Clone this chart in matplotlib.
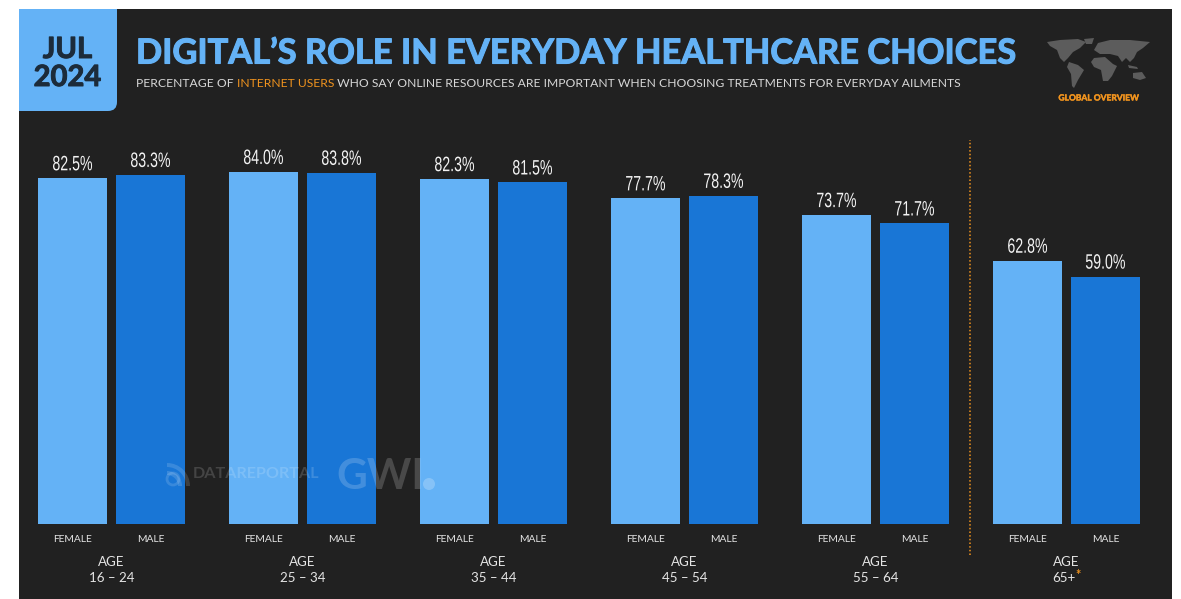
import matplotlib
matplotlib.use("Agg")
import matplotlib.pyplot as plt
import matplotlib.patheffects as pe
from matplotlib.patches import FancyBboxPatch, Polygon, Rectangle, Wedge, Circle
from matplotlib.transforms import Affine2D

# Survey values (percent of internet users)
age_groups = ["16 – 24", "25 – 34", "35 – 44", "45 – 54", "55 – 64", "65+"]
female = [82.5, 84.0, 82.3, 77.7, 73.7, 62.8]
male = [83.3, 83.8, 81.5, 78.3, 71.7, 59.0]
value_labels_female = ["82.5%", "84.0%", "82.3%", "77.7%", "73.7%", "62.8%"]
value_labels_male = ["83.3%", "83.8%", "81.5%", "78.3%", "71.7%", "59.0%"]

title = "DIGITAL’S ROLE IN EVERYDAY HEALTHCARE CHOICES"
subtitle_parts = [
    ("PERCENTAGE OF ", "#d8d8d8"),
    ("INTERNET USERS", "#f0931e"),
    (" WHO SAY ONLINE RESOURCES ARE IMPORTANT WHEN CHOOSING TREATMENTS FOR EVERYDAY AILMENTS", "#d8d8d8"),
]

PANEL = "#212121"
LIGHT = "#64B2F6"
DARK = "#1976D6"
ORANGE = "#F0931E"
TEXT = "#E4E4E4"
NAVY = "#1c2b3a"


class Squeeze(pe.AbstractPathEffect):
    """Narrows glyphs horizontally about a fixed display x position."""

    def __init__(self, centre, factor):
        super().__init__()
        self.centre = centre
        self.factor = factor

    def draw_path(self, renderer, gc, tpath, affine, rgbFace=None):
        squeezed = affine + Affine2D().translate(-self.centre, 0).scale(self.factor, 1).translate(self.centre, 0)
        renderer.draw_path(gc, tpath, squeezed, rgbFace)


def heavy(colour, width):
    return [pe.withStroke(linewidth=width, foreground=colour)]


W, H = 1181, 599
fig = plt.figure(figsize=(W / 100, H / 100), dpi=100, facecolor="white")

# Layout layer addressed in pixels, y pointing down
deco = fig.add_axes([0, 0, 1, 1], zorder=0)
deco.set_xlim(0, W)
deco.set_ylim(H, 0)
deco.axis("off")
deco.add_patch(Rectangle((19, 9), 1153, 590, fc=PANEL, ec="none"))

# Date badge: square on the top and left, rounded at the lower right
deco.add_patch(FancyBboxPatch((19, -20), 98, 131, boxstyle="round,pad=0,rounding_size=9",
                              fc=LIGHT, ec="none"))
deco.add_patch(Rectangle((19, 95), 20, 16, fc=LIGHT, ec="none"))
deco.add_patch(Rectangle((0, 0), W, 9, fc="white", ec="none"))
for label, y in (("JUL", 50), ("2024", 78)):
    deco.text(67.5, y, label, ha="center", va="center", color=NAVY, fontsize=21,
              family="Lato", weight="bold", path_effects=heavy(NAVY, 0.7))

deco.text(136, 53.5, title, ha="left", va="center", color=LIGHT, fontsize=24.8,
          family="Lato", weight="bold", path_effects=heavy(LIGHT, 0.8))

# Subtitle pieces are laid end to end on one baseline
renderer = fig.canvas.get_renderer()
cursor = 136
for text, colour in subtitle_parts:
    piece = deco.text(cursor, 87, text, color=colour, fontsize=8.72, family="Lato",
                      ha="left", va="baseline")
    cursor += piece.get_window_extent(renderer).width

# Simplified world map
land = [
    [(1047, 42), (1060, 40), (1078, 39), (1086, 42), (1080, 48), (1073, 52), (1068, 58),
     (1064, 62), (1060, 58), (1057, 50), (1050, 46)],
    [(1084, 39), (1094, 38), (1092, 44), (1086, 44)],
    [(1069, 62), (1078, 65), (1084, 70), (1078, 80), (1074, 88), (1072, 86), (1071, 74), (1067, 67)],
    [(1094, 58), (1105, 57), (1113, 64), (1117, 66), (1112, 76), (1108, 81), (1103, 81),
     (1101, 70), (1094, 67), (1091, 62)],
    [(1094, 50), (1098, 43), (1110, 40), (1130, 40), (1150, 42), (1143, 48), (1137, 52),
     (1134, 58), (1130, 62), (1126, 58), (1122, 62), (1118, 56), (1110, 54), (1100, 54)],
    [(1133, 73), (1142, 72), (1146, 78), (1140, 80), (1133, 78)],
    [(1128, 65), (1137, 67), (1138, 69), (1129, 68)],
]
for shape in land:
    deco.add_patch(Polygon(shape, closed=True, fc="#5c5c5c", ec="none"))
deco.text(1098.5, 98, "GLOBAL OVERVIEW", ha="center", va="center", color=ORANGE, fontsize=6.1,
          family="Lato", weight="bold", path_effects=heavy(ORANGE, 0.3))

# Bars on their own data scale: one x unit per age group, y in percent
PX_PER_UNIT = 191
PX_PER_PCT = 4.185
X0_PX = 111.5
BASE_PX = 523.5
ax = fig.add_axes([0, 0, 1, 1], zorder=1)
ax.patch.set_alpha(0)
ax.axis("off")
ax.set_xlim(-X0_PX / PX_PER_UNIT, (W - X0_PX) / PX_PER_UNIT)
ax.set_ylim(-(H - BASE_PX) / PX_PER_PCT, BASE_PX / PX_PER_PCT)

offset = 39 / PX_PER_UNIT
width = 69 / PX_PER_UNIT
label_gap = 1.9
small_font = dict(color=TEXT, fontsize=7.4, family="Lato", ha="center", va="center")
age_font = dict(color=TEXT, fontsize=9.6, family="Lato", ha="center", va="center")


def value_text(x, value, label):
    centre = ax.transData.transform((x, 0))[0]
    ax.text(x, value + label_gap, label, color="#f2f2f2", fontsize=15, family="Liberation Sans",
            ha="center", va="baseline", path_effects=[Squeeze(centre, 0.68)])


for i, group in enumerate(age_groups):
    ax.bar(i - offset, female[i], width, color=LIGHT)
    ax.bar(i + offset, male[i], width, color=DARK)
    value_text(i - offset, female[i], value_labels_female[i])
    value_text(i + offset, male[i], value_labels_male[i])
    ax.text(i - offset, -3.9, "FEMALE", **small_font)
    ax.text(i + offset, -3.9, "MALE", **small_font)
    ax.text(i, -9.2, "AGE", **age_font)
    ax.text(i - (0.012 if group == "65+" else 0), -13.1, group, **age_font)

# Asterisk beside the last age band
ax.text(5.06, -12.4, "*", color=ORANGE, fontsize=9, family="Lato", ha="center", va="center", weight="bold")

# Separator in front of the 65+ group
ax.plot([(970 - X0_PX) / PX_PER_UNIT] * 2, [-(555 - BASE_PX) / PX_PER_PCT, (BASE_PX - 140) / PX_PER_PCT],
        color=ORANGE, lw=1.1, ls=(0, (1, 1.4)))

# Translucent source marks across the lower part of the bars
mark = fig.add_axes([0, 0, 1, 1], zorder=2)
mark.patch.set_alpha(0)
mark.axis("off")
mark.set_xlim(0, W)
mark.set_ylim(H, 0)
mark.text(193, 474, "DATAREPORTAL", color="white", alpha=0.16, fontsize=11.6, family="Lato",
          weight="bold", ha="left", va="center")
# The axis is inverted, so angles run clockwise on screen; 270-360 is the upper right
for outer, thick in ((23, 4), (15, 4)):
    mark.add_patch(Wedge((167, 486), outer, 270, 360, width=thick, fc="white", ec="none", alpha=0.14))
mark.add_patch(Circle((173, 479), 6, fc="none", ec="white", lw=2, alpha=0.14))
mark.text(336, 477, "GWI", color="white", alpha=0.18, fontsize=30.5, family="Lato",
          weight="bold", ha="left", va="center")
mark.add_patch(Circle((429, 484), 6, fc="white", ec="none", alpha=0.22))

fig.savefig("out.png", dpi=100, facecolor=fig.get_facecolor())
